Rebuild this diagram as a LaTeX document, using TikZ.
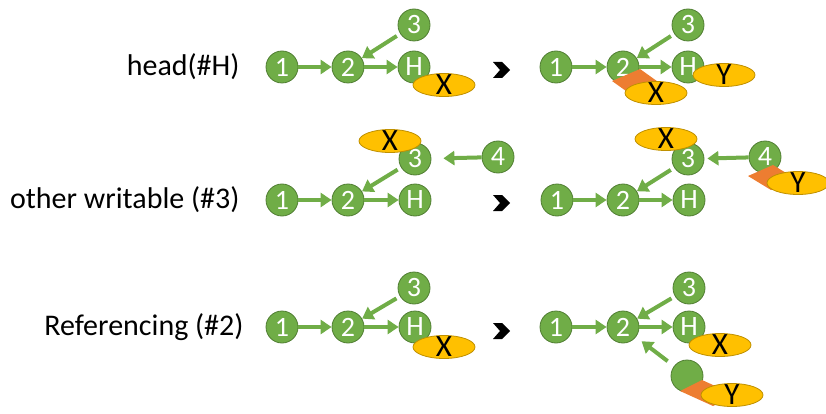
\documentclass[tikz,border=0pt]{standalone}
\usepackage{fontspec}
\setmainfont{Carlito}
\usepackage{tikz}
\usetikzlibrary{positioning, shapes.geometric, arrows.meta}
\definecolor{objgreen}{HTML}{70AD47}
\definecolor{objedge}{HTML}{507E32}
\definecolor{tagyellow}{HTML}{FFC000}
\definecolor{tagedge}{HTML}{BF9000}
\definecolor{reforange}{HTML}{ED7D31}
\newcommand{\tagtxt}[1]{\smash{\raisebox{-.5\height}{#1}}}

\begin{document}
\begin{tikzpicture}[x=1pt, y=-1pt,
    obj/.style={circle, fill=objgreen, draw=objedge, line width=0.8pt, minimum size=32pt, inner sep=0pt, text=white, font=\fontsize{28}{30}\selectfont},
    tag/.style={ellipse, fill=tagyellow, draw=tagedge, line width=0.8pt, minimum width=62pt, minimum height=23pt, inner sep=0pt, font=\fontsize{31}{33}\selectfont},
    ptr/.style={draw=objgreen, line width=4pt, -{Triangle[length=11pt, width=14pt]}},
    caption/.style={anchor=east, font=\fontsize{30}{34}\selectfont}]
      \useasboundingbox (0,0) rectangle (826,414);

      \node[caption] (Hlabel) at (243,67) {head(\#H)};
      \node[caption] (Wlabel) at (243,200) {other writable (\#3)};
      \node[caption] (Rlabel) at (247,327) {Referencing (\#2)};

      % head, before
      \node[obj] (H1) at (282,67) {1};
      \node[obj] (H2) at (348,67) {2};
      \node[obj] (HH) at (414,67) {H};
      \node[obj] (H3) at (414,25) {3};
      \draw[ptr] (node cs:name=H1) -- (node cs:name=H2);
      \draw[ptr] (node cs:name=H2) -- (node cs:name=HH);
      \draw[ptr, shorten <=4pt] (node cs:name=H3) -- (node cs:name=H2);
      \node[tag] (HX) at (444,85) {\tagtxt{X}};

      % head, after
      \node[obj] (H1') at (556,67) {1};
      \node[obj] (H2') at (623,67) {2};
      \node[obj] (HH') at (688,67) {H};
      \node[obj] (H3') at (688,25) {3};
      \draw[ptr] (node cs:name=H1') -- (node cs:name=H2');
      \draw[ptr] (node cs:name=H2') -- (node cs:name=HH');
      \draw[ptr, shorten <=4pt] (node cs:name=H3') -- (node cs:name=H2');
      \fill[reforange] (612,81) -- (640,69) -- (661,84) -- (633,96) -- cycle;
      \node[tag] (HX') at (656,93) {\tagtxt{X}};
      \node[tag] (HY') at (724,75) {\tagtxt{Y}};

      % other writable, before
      \node[obj] (W1) at (282,200) {1};
      \node[obj] (W2) at (348,200) {2};
      \node[obj] (WH) at (415,200) {H};
      \node[obj] (W3) at (415,159) {3};
      \node[obj] (W4) at (498,157) {4};
      \draw[ptr] (node cs:name=W1) -- (node cs:name=W2);
      \draw[ptr] (node cs:name=W2) -- (node cs:name=WH);
      \draw[ptr, shorten <=4pt] (node cs:name=W3) -- (node cs:name=W2);
      \draw[ptr, shorten >=12pt] (node cs:name=W4) -- (node cs:name=W3);
      \node[tag] (WX) at (390,141) {\tagtxt{X}};

      % other writable, after
      \node[obj] (W1') at (557,200) {1};
      \node[obj] (W2') at (623,200) {2};
      \node[obj] (WH') at (689,200) {H};
      \node[obj] (W3') at (688,159) {3};
      \node[obj] (W4') at (765,157) {4};
      \draw[ptr] (node cs:name=W1') -- (node cs:name=W2');
      \draw[ptr] (node cs:name=W2') -- (node cs:name=WH');
      \draw[ptr, shorten <=4pt] (node cs:name=W3') -- (node cs:name=W2');
      \draw[ptr, shorten >=3pt] (node cs:name=W4') -- (node cs:name=W3');
      \node[tag] (WX') at (666,139) {\tagtxt{X}};
      \fill[reforange] (748,176) -- (773,165) -- (796,179) -- (771,190) -- cycle;
      \node[tag] (WY') at (798,183) {\tagtxt{Y}};

      % referencing, before
      \node[obj] (R1) at (282,327) {1};
      \node[obj] (R2) at (348,327) {2};
      \node[obj] (RH) at (415,327) {H};
      \node[obj] (R3) at (414,288) {3};
      \draw[ptr] (node cs:name=R1) -- (node cs:name=R2);
      \draw[ptr] (node cs:name=R2) -- (node cs:name=RH);
      \draw[ptr, shorten <=4pt] (node cs:name=R3) -- (node cs:name=R2);
      \node[tag] (RX) at (444,347) {\tagtxt{X}};

      % referencing, after
      \node[obj] (R1') at (556,327) {1};
      \node[obj] (R2') at (623,327) {2};
      \node[obj] (RH') at (689,327) {H};
      \node[obj] (R3') at (689,288) {3};
      \node[obj] (R5') at (687,376) {};
      \draw[ptr] (node cs:name=R1') -- (node cs:name=R2');
      \draw[ptr] (node cs:name=R2') -- (node cs:name=RH');
      \draw[ptr, shorten <=4pt] (node cs:name=R3') -- (node cs:name=R2');
      \draw[ptr, shorten <=8pt, shorten >=7pt] (node cs:name=R5') -- (node cs:name=R2');
      \node[tag] (RX') at (720,345) {\tagtxt{X}};
      \fill[reforange] (680,391) -- (702,380) -- (735,395) -- (713,406) -- cycle;
      \node[tag] (RY') at (732,395) {\tagtxt{Y}};

      % steps
      \fill (493,62) -- ++(9,0) -- ++(8,8) -- ++(-8,8) -- ++(-9,0) -- ++(7,-8) -- cycle;
      \fill (493,195) -- ++(9,0) -- ++(8,8) -- ++(-8,8) -- ++(-9,0) -- ++(7,-8) -- cycle;
      \fill (493,323) -- ++(9,0) -- ++(8,8) -- ++(-8,8) -- ++(-9,0) -- ++(7,-8) -- cycle;
    \end{tikzpicture}
\end{document}
